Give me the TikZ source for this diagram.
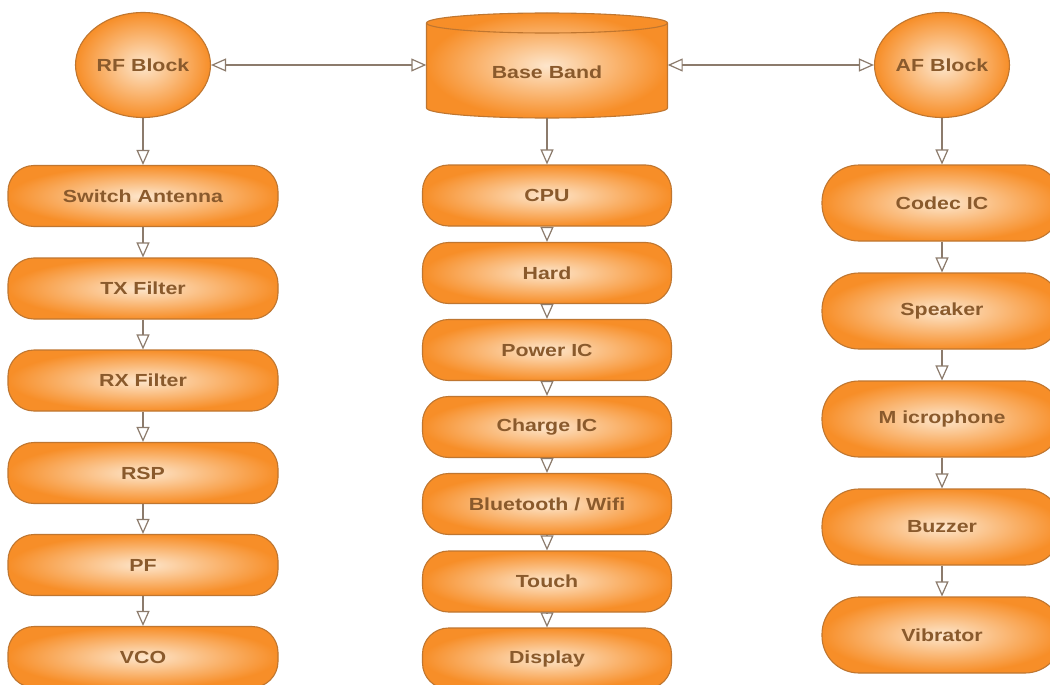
\documentclass[tikz,border=0pt]{standalone}
\usepackage{fontspec}
\setmainfont{Liberation Sans}
\usetikzlibrary{shapes.geometric,arrows.meta}
\definecolor{edgec}{HTML}{BF7630}
\definecolor{innerc}{HTML}{FDE6CC}
\definecolor{outerc}{HTML}{F78E28}
\definecolor{txtc}{HTML}{8A5A2C}
\definecolor{linec}{HTML}{8C7B6C}
\newcommand{\lbl}[1]{\scalebox{1.22}[1]{#1}}
\tikzset{
  shade/.style={shading=radial, inner color=innerc, outer color=outerc},
  base/.style={shade, draw=edgec, line width=1.1pt, text=txtc,
    font=\bfseries\fontsize{17.5}{20}\selectfont, inner sep=0pt},
  lbox/.style={base, rounded corners=26pt, minimum width=270pt, minimum height=61pt},
  mbox/.style={base, rounded corners=26pt, minimum width=249pt, minimum height=61pt},
  rbox/.style={base, rounded corners=37pt, minimum width=240pt, minimum height=76pt},
  blob/.style={base, ellipse, minimum width=135pt, minimum height=105pt},
  tip/.style={},
  conn/.style={draw=linec, line width=1.4pt,
    -{Triangle[open, length=15pt, width=13pt, line width=1.2pt]}},
  biconn/.style={draw=linec, line width=1.4pt,
    {Triangle[open, length=15pt, width=13pt, line width=1.2pt]}-{Triangle[open, length=15pt, width=13pt, line width=1.2pt]}}
}
\begin{document}
\begin{tikzpicture}[x=1pt,y=1pt]
\useasboundingbox (0,0) rectangle (1050,-685);
\clip (0,0) rectangle (1050,-685);
\fill[white] (0,0) rectangle (1050,-685);
% cylinder body
\path[shade, draw=edgec, line width=1.1pt]
  (426.5,-23) -- (426.5,-108)
  arc[start angle=180, end angle=360, x radius=120.5, y radius=10]
  -- (667.5,-23)
  arc[start angle=0, end angle=180, x radius=120.5, y radius=10] -- cycle;
\draw[edgec, line width=1.1pt] (426.5,-23)
  arc[start angle=180, end angle=360, x radius=120.5, y radius=10];
\node[text=txtc, font=\bfseries\fontsize{17.5}{20}\selectfont, inner sep=0pt,
  minimum width=241pt, minimum height=106pt] (bb) at (547,-65)
  {\raisebox{-14pt}[0pt][0pt]{\lbl{Base Band}}};
% left column
\node[blob] (rf) at (143,-65) {\lbl{RF Block}};
\node[lbox] (sw) at (143,-196) {\lbl{Switch Antenna}};
\node[lbox] (tx) at (143,-288.5) {\lbl{TX Filter}};
\node[lbox] (rx) at (143,-380.5) {\lbl{RX Filter}};
\node[lbox] (rsp) at (143,-473) {\lbl{RSP}};
\node[lbox] (pf) at (143,-565) {\lbl{PF}};
\node[lbox] (vco) at (143,-657) {\lbl{VCO}};
% middle column
\node[mbox] (cpu) at (547,-195.5) {\lbl{CPU}};
\node[mbox] (hard) at (547,-273) {\lbl{Hard}};
\node[mbox] (pic) at (547,-350) {\lbl{Power IC}};
\node[mbox] (cic) at (547,-427) {\lbl{Charge IC}};
\node[mbox] (bt) at (547,-504) {\lbl{Bluetooth / Wifi}};
\node[mbox] (tch) at (547,-581.5) {\lbl{Touch}};
\node[mbox] (dsp) at (547,-658.5) {\lbl{Display}};
% right column
\node[blob] (af) at (942,-65) {\lbl{AF Block}};
\node[rbox] (cod) at (942,-203) {\lbl{Codec IC}};
\node[rbox] (spk) at (942,-311) {\lbl{Speaker}};
\node[rbox] (mic) at (942,-419) {\lbl{M icrophone}};
\node[rbox] (buz) at (942,-527) {\lbl{Buzzer}};
\node[rbox] (vib) at (942,-635) {\lbl{Vibrator}};
% connectors
\draw[biconn] (rf) -- (bb);
\draw[biconn] (bb) -- (af);
\draw[conn] (rf) -- (sw);
\draw[conn] (sw) -- (tx);
\draw[conn] (tx) -- (rx);
\draw[conn] (rx) -- (rsp);
\draw[conn] (rsp) -- (pf);
\draw[conn] (pf) -- (vco);
\draw[conn] (bb) -- (cpu);
\draw[conn] (cpu) -- (hard);
\draw[conn] (hard) -- (pic);
\draw[conn] (pic) -- (cic);
\draw[conn] (cic) -- (bt);
\draw[conn] (bt) -- (tch);
\draw[conn] (tch) -- (dsp);
\draw[conn] (af) -- (cod);
\draw[conn] (cod) -- (spk);
\draw[conn] (spk) -- (mic);
\draw[conn] (mic) -- (buz);
\draw[conn] (buz) -- (vib);
\end{tikzpicture}
\end{document}
